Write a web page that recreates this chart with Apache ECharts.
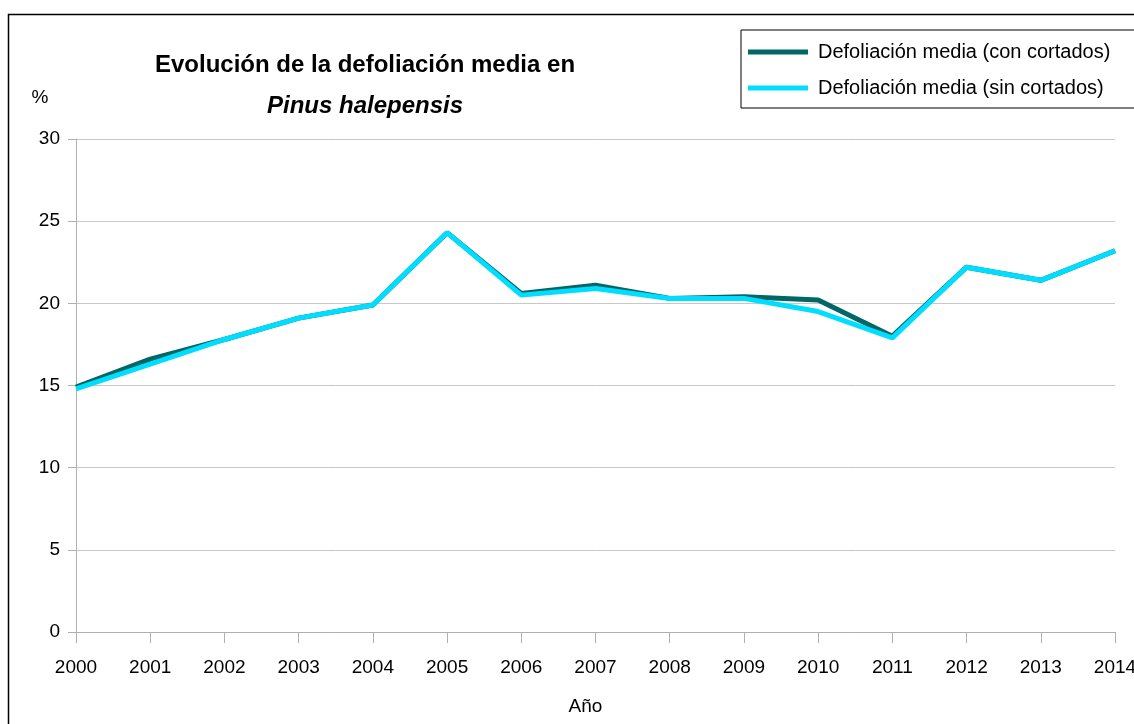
<!DOCTYPE html>
<html>
<head>
<meta charset="utf-8">
<script src="https://cdn.jsdelivr.net/npm/echarts@6/dist/echarts.min.js"></script>
<style>
html, body { margin: 0; padding: 0; background: #fff; }
#chart-container { width: 1134px; height: 724px; }
</style>
</head>
<body>
<div id="chart-container"></div>
<script>
var years = ['2000', '2001', '2002', '2003', '2004', '2005', '2006', '2007', '2008', '2009', '2010', '2011', '2012', '2013', '2014'];
var conCortados = [14.9, 16.6, 17.8, 19.1, 19.9, 24.3, 20.6, 21.1, 20.3, 20.4, 20.2, 18.0, 22.2, 21.4, 23.2];
var sinCortados = [14.8, 16.3, 17.8, 19.1, 19.9, 24.3, 20.5, 20.9, 20.3, 20.3, 19.5, 17.9, 22.2, 21.4, 23.2];
var seriesNames = ['Defoliación media (con cortados)', 'Defoliación media (sin cortados)'];

var font = '"Liberation Sans", Arial, sans-serif';

var dom = document.getElementById('chart-container');
var myChart = echarts.init(dom, null, {
	renderer: 'canvas'
});

var option = {
	backgroundColor: '#ffffff',
	animation: false,
	title: [
		{
			text: 'Evolución de la defoliación media en',
			left: 360,
			top: 48,
			textAlign: 'center',
			textStyle: { fontFamily: font, fontSize: 24, fontWeight: 'bold', color: '#000' }
		},
		{
			text: 'Pinus halepensis',
			left: 360,
			top: 89,
			textAlign: 'center',
			textStyle: { fontFamily: font, fontSize: 24, fontWeight: 'bold', fontStyle: 'italic', color: '#000' }
		}
	],
	graphic: [{
		type: 'rect',
		shape: { x: 8.5, y: 14.5, width: 1200, height: 800 },
		style: { fill: 'none', stroke: '#000', lineWidth: 1.5 },
		silent: true
	}],
	legend: {
		left: 741,
		top: 30,
		orient: 'vertical',
		data: seriesNames,
		itemWidth: 60,
		itemHeight: 5,
		itemGap: 16,
		padding: [12, 30, 10, 7],
		borderColor: '#000',
		borderWidth: 1,
		icon: 'rect',
		textStyle: { fontFamily: font, fontSize: 20, color: '#000', padding: [0, 0, 0, 5] }
	},
	grid: {
		left: 76,
		right: 19,
		top: 139,
		bottom: 92,
		containLabel: false,
		outerBoundsMode: 'none'
	},
	xAxis: {
		type: 'category',
		data: years,
		boundaryGap: false,
		name: 'Año',
		nameLocation: 'middle',
		nameGap: 65,
		nameTextStyle: { fontFamily: font, fontSize: 19, color: '#000', padding: [0, 20, 0, 0] },
		axisLine: { lineStyle: { color: '#b0b0b0', width: 1 } },
		axisTick: { show: true, length: 11, lineStyle: { color: '#b0b0b0' } },
		axisLabel: { fontFamily: font, fontSize: 19, color: '#000', margin: 26, showMaxLabel: true },
		splitLine: { show: false }
	},
	yAxis: {
		type: 'value',
		min: 0,
		max: 30,
		interval: 5,
		name: '%',
		nameLocation: 'end',
		nameGap: 32,
		nameTextStyle: { fontFamily: font, fontSize: 19, color: '#000', align: 'center', padding: [0, 72, 0, 0] },
		axisLine: { show: true, lineStyle: { color: '#b0b0b0', width: 1 } },
		axisTick: { show: true, length: 8, lineStyle: { color: '#b0b0b0' } },
		axisLabel: { fontFamily: font, fontSize: 19, color: '#000', margin: 16 },
		splitLine: { show: true, lineStyle: { color: '#c8c8c8', width: 1 } }
	},
	series: [
		{
			name: seriesNames[0],
			type: 'line',
			data: conCortados,
			symbol: 'none',
			color: '#006666',
			lineStyle: { width: 5, color: '#006666' }
		},
		{
			name: seriesNames[1],
			type: 'line',
			data: sinCortados,
			symbol: 'none',
			color: '#00ddff',
			lineStyle: { width: 5, color: '#00ddff' }
		}
	]
};

myChart.setOption(option);
window.addEventListener('resize', myChart.resize);
</script>
</body>
</html>
